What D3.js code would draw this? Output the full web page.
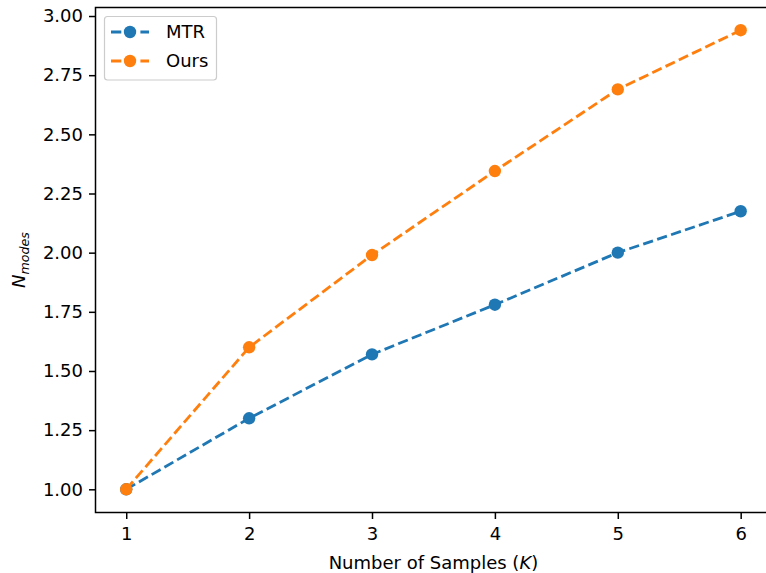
<!DOCTYPE html>
<html>
<head>
<meta charset="utf-8">
<style>
  body { margin: 0; background: #fff; }
  svg { font-family: "DejaVu Sans", sans-serif; }
</style>
</head>
<body>
<svg width="766" height="573"></svg>
<script src="https://d3js.org/d3.v7.min.js"></script>
<script>

var samples = [1, 2, 3, 4, 5, 6],
    mtr = [1.00, 1.30, 1.57, 1.78, 2.00, 2.175],
    ours = [1.00, 1.60, 1.99, 2.345, 2.69, 2.94],
    yTicks = [1.00, 1.25, 1.50, 1.75, 2.00, 2.25, 2.50, 2.75, 3.00];

var svg = d3.select("svg"),
    pLeft = 95.5, pRight = 771.4, pTop = 7.5, pBottom = 512.5,
    fs = 18;

var x = d3.scaleLinear().domain([0.75, 6.25]).range([pLeft, pRight]),
    y = d3.scaleLinear().domain([0.902, 3.036]).range([pBottom, pTop]);

var series = [
  {name: "MTR", color: "#1f77b4", val: mtr},
  {name: "Ours", color: "#ff7f0e", val: ours}
];

// axes
var gx = svg.append("g")
    .attr("transform", "translate(0," + pBottom + ")")
    .call(d3.axisBottom(x).tickValues(samples).tickFormat(d3.format("d")).tickSize(6.5).tickPadding(8));
var gy = svg.append("g")
    .attr("transform", "translate(" + pLeft + ",0)")
    .call(d3.axisLeft(y).tickValues(yTicks).tickFormat(d3.format(".2f")).tickSize(6.5).tickPadding(6));

[gx, gy].forEach(function(g) {
  g.select(".domain").remove();
  g.selectAll("line").attr("stroke", "#000").attr("stroke-width", 1.5);
  g.selectAll("text").attr("fill", "#000").style("font-size", fs + "px").style("font-family", "DejaVu Sans");
});

// frame
svg.append("rect")
    .attr("x", pLeft).attr("y", pTop)
    .attr("width", pRight - pLeft).attr("height", pBottom - pTop)
    .attr("fill", "none").attr("stroke", "#000").attr("stroke-width", 1.5);

// lines
var line = d3.line()
    .x(function(d, i) { return x(samples[i]); })
    .y(function(d) { return y(d); });

var plot = svg.append("g");
series.forEach(function(s) {
  plot.append("path")
      .datum(s.val)
      .attr("d", line)
      .attr("fill", "none")
      .attr("stroke", s.color)
      .attr("stroke-width", 2.8)
      .attr("stroke-dasharray", "10.3,4.4");
  plot.selectAll(null)
      .data(s.val)
      .enter().append("circle")
      .attr("cx", function(d, i) { return x(samples[i]); })
      .attr("cy", function(d) { return y(d); })
      .attr("r", 6.2)
      .attr("fill", s.color);
});

// axis labels
svg.append("text")
    .attr("x", (pLeft + pRight) / 2).attr("y", 569)
    .attr("text-anchor", "middle")
    .style("font-size", fs + "px")
    .html("Number of Samples (<tspan font-style='italic'>K</tspan>)");

var yl = svg.append("text")
    .attr("transform", "translate(25," + (pTop + pBottom) / 2 + ") rotate(-90)")
    .attr("text-anchor", "middle")
    .style("font-size", fs + "px")
    .style("font-style", "italic");
yl.append("tspan").text("N");
yl.append("tspan").attr("dy", 4).style("font-size", (fs * 0.7) + "px").text("modes");

// legend
var lg = svg.append("g");
lg.append("rect")
    .attr("x", 104.5).attr("y", 16.5).attr("width", 112).attr("height", 63.5)
    .attr("rx", 3).attr("fill", "#fff").attr("fill-opacity", 0.8)
    .attr("stroke", "#ccc").attr("stroke-width", 1.2);
series.forEach(function(s, i) {
  var yy = 32 + i * 29;
  lg.append("line")
      .attr("x1", 111).attr("x2", 149).attr("y1", yy).attr("y2", yy)
      .attr("stroke", s.color).attr("stroke-width", 2.8)
      .attr("stroke-dasharray", "10.3,4.4");
  lg.append("circle").attr("cx", 130).attr("cy", yy).attr("r", 6.2).attr("fill", s.color);
  lg.append("text")
      .attr("x", 166).attr("y", yy).attr("dy", "0.35em")
      .style("font-size", fs + "px")
      .text(s.name);
});

</script>
</body>
</html>
